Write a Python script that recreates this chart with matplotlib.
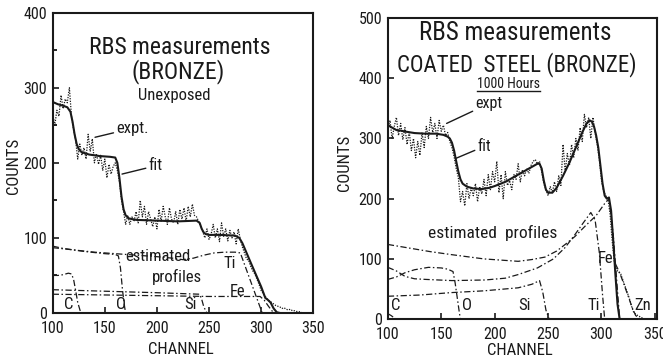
import matplotlib

matplotlib.use("Agg")

import matplotlib.pyplot as plt
from matplotlib.lines import Line2D

plt.rcParams["font.family"] = ["Roboto Condensed", "DejaVu Sans"]

# ---------------- left panel: unexposed bronze ----------------
left_expt_ch = list(range(100, 342, 2))
left_expt = [
    265, 250, 270, 262, 290, 272, 285, 280, 300, 262,
    245, 230, 205, 225, 210, 220, 205, 238, 215, 232,
    200, 212, 198, 210, 190, 205, 180, 198, 185, 195,
    200, 190, 175, 150, 135, 118, 130, 118, 128, 122,
    135, 120, 150, 128, 142, 118, 135, 125, 115, 128,
    112, 138, 122, 142, 128, 118, 140, 125, 120, 135,
    118, 138, 125, 140, 122, 142, 128, 145, 130, 128,
    122, 115, 108, 100, 112, 98, 105, 118, 100, 112,
    95, 120, 102, 112, 96, 110, 100, 108, 92, 112,
    98, 88, 80, 72, 70, 62, 56, 52, 45, 38,
    30, 26, 22, 18, 16, 14, 12, 10, 9, 8,
    6, 7, 5, 4, 5, 3, 3, 2, 2, 1, 0,
]
left_fit_ch = [100, 105, 110, 114, 117, 119, 121, 123, 125, 128, 135, 145, 155, 160,
               162, 164, 166, 168, 170, 173, 180, 200, 220, 238, 241, 243, 245, 247,
               250, 260, 275, 279, 282, 290, 300, 304, 306, 309, 312, 315, 318]
left_fit = [281, 278, 276, 274, 268, 255, 238, 225, 218, 214, 211, 209, 208, 207,
            200, 180, 155, 138, 130, 126, 124, 123, 122, 123, 120, 112, 107, 105,
            104, 104, 103, 100, 93, 67, 35, 20, 18, 14, 6, 1, 0]
left_ti_ch = [100, 120, 140, 160, 180, 200, 215, 225, 235, 245, 255, 265, 275, 280, 301]
left_ti = [87, 84, 81, 79, 77, 75, 73, 71, 73, 77, 80, 81, 81, 80, 0]
left_o_ch = [100, 110, 130, 150, 160, 163, 165, 167, 169, 170]
left_o = [89, 86, 82, 79, 78, 76, 60, 30, 8, 0]
left_c_ch = [100, 105, 110, 115, 118, 120, 122, 124, 127]
left_c = [50, 50, 51, 53, 52, 45, 30, 14, 0]
left_si_ch = [100, 150, 200, 241, 243, 245, 248]
left_si = [31, 29, 27, 25, 18, 8, 0]
left_fe_ch = [100, 150, 200, 250, 299, 303, 307, 312]
left_fe = [25, 24, 23, 22, 22, 17, 9, 0]

# ---------------- right panel: coated steel, 1000 hours ----------------
right_expt_ch = list(range(100, 342, 2))
right_expt = [
    315, 330, 300, 320, 335, 305, 325, 298, 318, 290,
    312, 280, 300, 268, 295, 272, 310, 285, 320, 300,
    335, 310, 325, 300, 330, 312, 322, 305, 310, 295,
    285, 270, 250, 235, 195, 212, 188, 225, 200, 218,
    205, 225, 195, 220, 208, 232, 205, 240, 215, 245,
    228, 262, 210, 240, 200, 245, 222, 230, 215, 240,
    232, 258, 228, 248, 238, 250, 242, 255, 262, 265,
    258, 262, 245, 225, 215, 205, 220, 210, 228, 212,
    238, 222, 290, 245, 275, 255, 290, 268, 300, 280,
    318, 295, 340, 318, 335, 300, 335, 310, 290, 265,
    230, 212, 205, 200, 175, 130, 95, 82, 78, 75,
    65, 55, 45, 35, 22, 12, 8, 6, 4, 2, 0,
]
right_fit_ch = [100, 104, 108, 112, 118, 125, 135, 145, 152, 156, 158, 160, 162, 164,
                166, 168, 170, 174, 180, 188, 195, 200, 210, 220, 230, 236, 240, 242,
                244, 246, 248, 250, 254, 258, 264, 270, 276, 282, 286, 289, 291, 293,
                295, 297, 299, 301, 303, 305, 307, 309, 311, 313, 315, 317]
right_fit = [322, 318, 314, 313, 311, 309, 308, 308, 306, 303, 300, 293, 280, 262,
             245, 232, 225, 220, 217, 216, 218, 221, 228, 238, 248, 254, 258, 258,
             250, 230, 215, 210, 210, 218, 238, 260, 285, 310, 325, 330, 328, 320,
             305, 285, 255, 225, 205, 200, 202, 180, 130, 75, 25, 0]
right_fe_ch = [100, 120, 140, 160, 190, 222, 235, 247, 258, 266, 275, 285, 295, 303, 307, 311, 314, 317]
right_fe = [124, 118, 112, 107, 100, 96, 99, 103, 113, 124, 137, 155, 172, 192, 200, 140, 70, 0]
right_ti_ch = [100, 108, 116, 125, 135, 160, 191, 210, 222, 240, 255, 266, 275, 283, 290, 294, 298, 301, 303]
right_ti = [86, 80, 71, 67, 66, 64, 65, 68, 74, 85, 100, 119, 140, 160, 177, 165, 110, 40, 0]
right_o_ch = [100, 108, 116, 125, 138, 150, 156, 161, 163, 165, 167, 168]
right_o = [66, 70, 77, 82, 86, 85, 83, 79, 60, 35, 10, 0]
right_si_ch = [100, 130, 159, 190, 222, 235, 242, 245, 248, 251]
right_si = [38, 40, 44, 47, 52, 58, 64, 45, 15, 0]
right_c_ch = [100, 103, 106, 108]
right_c = [9, 6, 2, 0]
right_zn_ch = [313, 317, 321, 325, 329, 332, 336]
right_zn = [92, 77, 58, 38, 18, 6, 0]

DASHDOT = (0, (5, 2, 1.2, 2))
DOTTED = (0, (1, 1.1))
INK = "#1a1a1a"
LEADER = dict(arrowstyle="-", lw=1.0, color=INK, shrinkA=0, shrinkB=0)


def style_axis(axis, ymax, xmax, minor_y):
    axis.set_xlim(100, xmax)
    axis.set_ylim(0, ymax)
    axis.set_xticks([100, 150, 200, 250, 300, 350])
    axis.set_yticks(list(range(0, ymax + 1, 100)))
    if minor_y:
        axis.set_yticks(list(range(50, ymax, 100)), minor=True)
    axis.tick_params(direction="in", length=4, width=1.2, labelsize=11.5, colors=INK)
    axis.tick_params(axis="x", pad=6)
    axis.tick_params(axis="y", pad=4)
    axis.tick_params(which="minor", direction="in", length=3, width=1.2)
    for spine in axis.spines.values():
        spine.set_linewidth(1.5)
        spine.set_color(INK)
    axis.set_xlabel("CHANNEL", fontsize=12, color=INK)
    axis.set_ylabel("COUNTS", fontsize=12, color=INK)


figure = plt.figure(figsize=(6.63, 3.61), dpi=100)
left = figure.add_axes([0.0795, 0.133, 0.393, 0.832])
right = figure.add_axes([0.585, 0.116, 0.406, 0.834])

# left panel
style_axis(left, 400, 350, True)
left.plot(left_expt_ch, left_expt, linestyle=DOTTED, lw=0.9, color=INK)
left.plot(left_fit_ch, left_fit, lw=1.5, color=INK)
for ch, val in ((left_ti_ch, left_ti), (left_o_ch, left_o), (left_c_ch, left_c),
                (left_si_ch, left_si), (left_fe_ch, left_fe)):
    left.plot(ch, val, linestyle=DASHDOT, lw=0.9, color=INK)
left.yaxis.set_label_coords(-0.122, 0.49)
left.xaxis.set_label_coords(0.49, -0.095)

left.text(222, 354, "RBS measurements", fontsize=17, ha="center", va="center", color=INK)
left.text(220, 321, "(BRONZE)", fontsize=17, ha="center", va="center", color=INK)
left.text(217, 290, "Unexposed", fontsize=12, ha="center", va="center", color=INK)
left.annotate("expt.", xy=(140.6, 234), xytext=(161, 246), fontsize=12, ha="left",
              va="center", color=INK, arrowprops=LEADER)
left.annotate("fit", xy=(166.5, 185), xytext=(192, 196), fontsize=12, ha="left",
              va="center", color=INK, arrowprops=LEADER)
left.text(201, 75, "estimated", fontsize=12, ha="center", va="center", color=INK)
left.text(219, 48, "profiles", fontsize=12, ha="center", va="center", color=INK)
for label, x, y in (("Ti", 270, 66), ("Fe", 277, 28), ("C", 115, 11), ("O", 166, 11),
                    ("Si", 232, 11)):
    left.text(x, y, label, fontsize=12, ha="center", va="center", color=INK)

# right panel
style_axis(right, 500, 352, False)
right.plot(right_expt_ch, right_expt, linestyle=DOTTED, lw=0.9, color=INK)
right.plot(right_fit_ch, right_fit, lw=1.5, color=INK)
for ch, val in ((right_fe_ch, right_fe), (right_ti_ch, right_ti), (right_o_ch, right_o),
                (right_si_ch, right_si), (right_c_ch, right_c), (right_zn_ch, right_zn)):
    right.plot(ch, val, linestyle=DASHDOT, lw=0.9, color=INK)
right.yaxis.set_label_coords(-0.134, 0.52)
right.xaxis.set_label_coords(0.49, -0.08)

right.text(219, 475, "RBS measurements", fontsize=18, ha="center", va="center", color=INK)
right.text(221, 422, "COATED  STEEL (BRONZE)", fontsize=16.5, ha="center", va="center",
           color=INK)
hours = right.text(212.5, 390, "1000 Hours", fontsize=10, ha="center", va="center",
                   color=INK)
right.annotate("expt", xy=(155, 325), xytext=(182, 358), fontsize=11.5, ha="left",
               va="center", color=INK, arrowprops=LEADER)
right.annotate("fit", xy=(163.7, 267), xytext=(184, 287), fontsize=11.5, ha="left",
               va="center", color=INK, arrowprops=LEADER)
right.text(198, 143, "estimated  profiles", fontsize=12.5, ha="center", va="center",
           color=INK)
for label, x, y in (("Fe", 304, 101), ("C", 107.5, 23), ("O", 173.7, 23), ("Si", 228, 23),
                    ("Ti", 293, 23), ("Zn", 339, 23)):
    right.text(x, y, label, fontsize=12, ha="center", va="center", color=INK)

# underline "1000 Hours"
figure.canvas.draw()
box = hours.get_window_extent().transformed(figure.transFigure.inverted())
figure.add_artist(Line2D([box.x0, box.x1], [box.y0 + 0.002, box.y0 + 0.002],
                         transform=figure.transFigure, lw=1.0, color=INK))

figure.savefig("out.png", dpi=100, facecolor="white")
